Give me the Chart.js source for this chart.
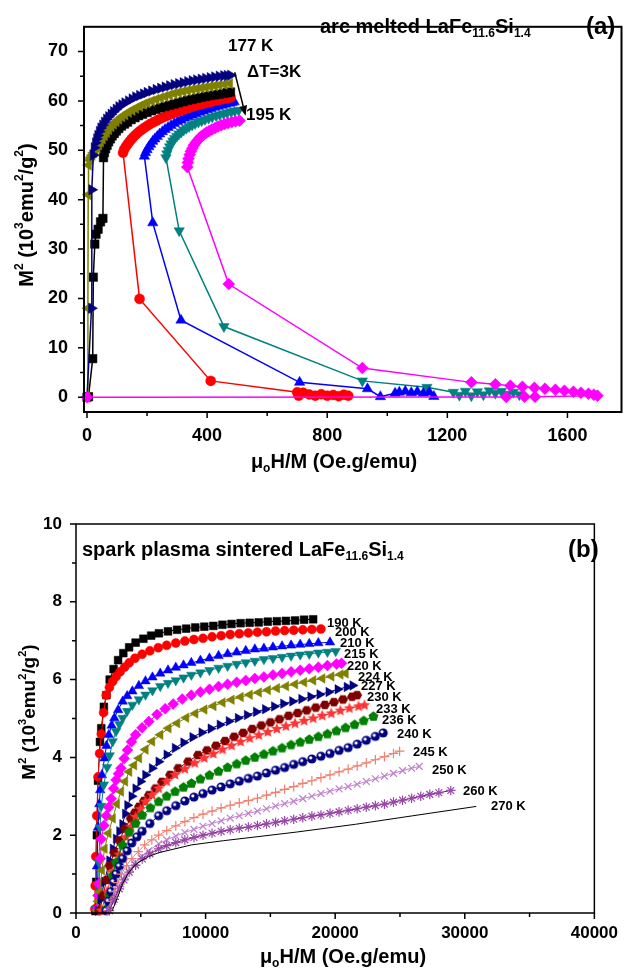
<!DOCTYPE html>
<html><head><meta charset="utf-8">
<script src="https://cdn.jsdelivr.net/npm/chart.js@4.4.1/dist/chart.umd.min.js"></script>
<style>
html,body{margin:0;padding:0;background:#fff;}
#wa{position:absolute;left:0;top:0;width:628px;height:480px;}
#wb{position:absolute;left:0;top:480px;width:628px;height:495px;}
canvas{display:block;}
</style></head><body>
<div id="wa"><canvas id="ca" width="628" height="480"></canvas></div>
<div id="wb"><canvas id="cb" width="628" height="495"></canvas></div>
<script>
// ---------- Panel (a) data: arc melted ----------
const tempsA = ['177 K','180 K','183 K','186 K','189 K','192 K','195 K'];
const xTicksA = [0,400,800,1200,1600];
const xMinorA = [200,600,1000,1400];
const yTicksA = [0,10,20,30,40,50,60,70];
const yMinorA = [5,15,25,35,45,55,65];

const a177 = [[0,0],[15,18],[16,42],[21,49],[24,50.5],[28,51.5],[32,52.3],[36,53],[41,53.8],[46,54.5],[52,55.1],[58,55.7],[65,56.3],[72,56.8],[80,57.3],[88,57.8],[97,58.3],[106,58.8],[116,59.2],[126,59.6],[138,60.0],[150,60.4],[162,60.8],[175,61.1],[188,61.4],[200,61.7],[215,62.0],[230,62.3],[245,62.55],[260,62.8],[275,63.05],[290,63.3],[305,63.5],[320,63.7],[335,63.9],[350,64.1],[365,64.25],[380,64.4],[395,64.55],[410,64.7],[425,64.85],[440,65.0],[455,65.1],[467,65.15],[478,65.2]];
const a180 = [[0,0],[3,18],[4,41],[5,47],[9,48],[12,48.5],[17,49],[22,49.5],[27,50],[33,50.5],[39,51.1],[45,51.7],[51,52.3],[58,53],[65,53.6],[72,54.2],[80,54.8],[88,55.3],[97,55.8],[106,56.3],[116,56.8],[126,57.2],[138,57.7],[150,58.1],[162,58.5],[175,58.9],[188,59.3],[200,59.6],[215,59.95],[230,60.3],[245,60.6],[260,60.9],[275,61.2],[290,61.5],[305,61.7],[320,61.9],[335,62.1],[350,62.3],[365,62.45],[380,62.6],[395,62.75],[410,62.9],[425,63.05],[440,63.2],[457,63.35],[475,63.5]];
const a183 = [[0,0],[5,0.1],[19,7.8],[21,24.3],[26,31],[30,33],[37,34],[45,35.5],[53,36.2],[55,48.5],[58,49.5],[62,50.3],[67,51],[72,51.7],[78,52.3],[84,52.9],[91,53.4],[98,53.9],[106,54.4],[115,54.9],[125,55.3],[135,55.7],[147,56.2],[160,56.6],[172,57.0],[185,57.3],[200,57.65],[215,58],[230,58.3],[245,58.6],[260,58.85],[275,59.1],[290,59.35],[305,59.6],[320,59.85],[335,60.1],[350,60.3],[365,60.5],[380,60.7],[395,60.9],[410,61.05],[425,61.2],[440,61.35],[455,61.5],[467,61.65],[478,61.8]];
const a186 = [[870,0.3],[855,0.5],[838,0.2],[820,0.45],[800,0.3],[780,0.6],[760,0.3],[740,0.55],[720,0.9],[705,0.3],[700,1.0],[412,3.3],[175,19.9],[120,49.5],[124,50.2],[130,50.8],[136,51.3],[142,51.8],[149,52.3],[156,52.8],[164,53.25],[172,53.7],[181,54.1],[190,54.5],[200,54.9],[210,55.3],[221,55.65],[232,56.0],[243,56.35],[255,56.7],[267,57.0],[280,57.3],[292,57.6],[305,57.9],[317,58.15],[330,58.4],[342,58.65],[355,58.9],[367,59.1],[380,59.3],[392,59.5],[405,59.7],[417,59.9],[430,60.1],[442,60.25],[455,60.4],[467,60.55],[478,60.7]];
const a189 = [[1155,0.15],[1140,1.0],[1120,0.8],[1100,1.1],[1080,0.9],[1060,1.2],[1040,1.0],[1026,0.8],[977,0.1],[934,1.7],[708,3.0],[313,15.6],[219,35.3],[191,48.8],[195,49.5],[200,50.1],[206,50.7],[212,51.2],[219,51.8],[226,52.3],[234,52.8],[242,53.3],[251,53.75],[260,54.2],[270,54.6],[280,55.0],[291,55.4],[302,55.8],[313,56.15],[325,56.5],[337,56.8],[350,57.1],[362,57.4],[375,57.7],[387,57.95],[400,58.2],[412,58.45],[425,58.7],[437,58.9],[450,59.1],[462,59.3],[475,59.5],[483,59.65],[490,59.8]];
const a192 = [[1440,0.5],[1420,1.0],[1400,0.6],[1380,1.2],[1360,0.8],[1340,1.3],[1320,0.5],[1300,1.1],[1280,0.3],[1260,1.2],[1240,0.4],[1220,1.0],[1132,2.0],[917,3.3],[456,14.3],[307,33.7],[263,48.5],[266,49.3],[270,50.0],[275,50.7],[280,51.3],[286,51.9],[292,52.4],[299,52.85],[306,53.3],[314,53.7],[322,54.1],[331,54.45],[340,54.8],[350,55.1],[360,55.4],[371,55.7],[382,56.0],[393,56.25],[405,56.5],[417,56.75],[430,57.0],[442,57.2],[455,57.4],[467,57.6],[480,57.8],[492,57.95],[505,58.1]];
const a195 = [[0,0],[1396,0.05],[1457,0.1],[1492,0.1],[1700,0.3],[1688,0.5],[1670,0.7],[1645,0.9],[1620,1.1],[1590,1.3],[1560,1.5],[1525,1.7],[1490,1.9],[1450,2.1],[1410,2.3],[1360,2.6],[1280,3.0],[917,5.9],[472,22.9],[334,46.6],[336,47.5],[338,48.3],[342,49.1],[346,49.8],[351,50.4],[356,51.0],[362,51.5],[368,52.0],[375,52.5],[382,52.9],[390,53.25],[398,53.6],[407,53.9],[416,54.2],[426,54.5],[436,54.8],[447,55.05],[458,55.3],[470,55.5],[482,55.7],[495,55.85],[508,56.0]];

// ---------- Panel (b) data: spark plasma sintered ----------
const tempsB = ['190 K','200 K','210 K','215 K','220 K','224 K','227 K','230 K','233 K','236 K','240 K','245 K','250 K','260 K','270 K'];
const xTicksB = [0,10000,20000,30000,40000];
const xMinorB = [5000,15000,25000,35000];
const yTicksB = [0,2,4,6,8,10];
const yMinorB = [1,3,5,7,9];

const b190 = [[1500,0.05],[1560,0.8],[1610,2.0],[1700,3.4],[1850,4.4],[1950,4.75],[2150,5.3],[2350,5.6],[2600,6.0],[2900,6.27],[3250,6.5],[3650,6.68],[4100,6.83],[4600,6.95],[5200,7.05],[5800,7.13],[6400,7.19],[7100,7.24],[7800,7.28],[8500,7.31],[9200,7.34],[9900,7.36],[10600,7.38],[11300,7.41],[12000,7.43],[12700,7.45],[13400,7.46],[14100,7.47],[14800,7.49],[15500,7.5],[16200,7.51],[16900,7.52],[17600,7.54],[18300,7.55]];
const b200 = [[1450,0.1],[1480,0.7],[1520,1.45],[1600,2.5],[1700,3.5],[1820,4.1],[1950,4.6],[2130,5.15],[2330,5.6],[2580,5.8],[2830,5.95],[3100,6.08],[3400,6.2],[3750,6.32],[4100,6.43],[4550,6.55],[5100,6.65],[5700,6.74],[6350,6.82],[7000,6.88],[7700,6.94],[8400,6.99],[9100,7.03],[9800,7.06],[10500,7.1],[11200,7.13],[11900,7.16],[12600,7.18],[13300,7.2],[14000,7.22],[14700,7.23],[15400,7.25],[16100,7.26],[16800,7.27],[17500,7.28],[18200,7.29],[18900,7.3]];
const b210 = [[1550,0.1],[1620,1.2],[1700,2.2],[1800,2.8],[1870,3.16],[2000,3.55],[2200,3.98],[2350,4.3],[2530,4.58],[2750,4.82],[2960,5.01],[3250,5.22],[3600,5.44],[3950,5.58],[4350,5.7],[4850,5.84],[5360,5.96],[5900,6.06],[6500,6.16],[7100,6.24],[7700,6.31],[8300,6.37],[8900,6.43],[9600,6.49],[10300,6.55],[11000,6.61],[11700,6.66],[12400,6.7],[13100,6.74],[13800,6.78],[14500,6.8],[15200,6.83],[15900,6.86],[16600,6.88],[17300,6.9],[18000,6.92],[18700,6.94],[19600,6.96]];
const b215 = [[1620,0.1],[1700,0.7],[1760,1.3],[1850,2.2],[1950,2.75],[2150,3.3],[2400,3.75],[2600,4.05],[2830,4.41],[3090,4.67],[3350,4.85],[3600,5.01],[3950,5.19],[4350,5.35],[4850,5.49],[5360,5.61],[5900,5.72],[6500,5.83],[7100,5.91],[7700,5.98],[8300,6.05],[8900,6.12],[9600,6.18],[10300,6.24],[11000,6.3],[11700,6.35],[12400,6.4],[13100,6.44],[13800,6.48],[14500,6.52],[15200,6.55],[15900,6.58],[16600,6.61],[17300,6.64],[18000,6.66],[18700,6.69],[19400,6.71],[20040,6.73]];
const b220 = [[1620,0.1],[1700,0.45],[1770,0.75],[1880,1.4],[1950,1.9],[2150,2.25],[2330,2.5],[2520,2.72],[2710,2.94],[2900,3.2],[3090,3.42],[3280,3.58],[3470,3.72],[3720,3.97],[3970,4.19],[4280,4.4],[4600,4.58],[5100,4.76],[5620,4.92],[6250,5.1],[6880,5.25],[7500,5.37],[8200,5.5],[8900,5.6],[9600,5.68],[10300,5.75],[11000,5.82],[11700,5.88],[12400,5.93],[13100,5.98],[13800,6.03],[14500,6.07],[15200,6.12],[15900,6.16],[16600,6.2],[17300,6.24],[18000,6.28],[18700,6.32],[19400,6.36],[20100,6.4],[20490,6.42]];
const b224 = [[1620,0.06],[1720,0.3],[1820,0.55],[2000,1.1],[2200,1.65],[2500,2.05],[2830,2.43],[3150,2.8],[3470,3.12],[3780,3.38],[4100,3.63],[4480,3.8],[4860,3.98],[5360,4.2],[5870,4.41],[6500,4.58],[7130,4.75],[7800,4.88],[8500,5.02],[9200,5.13],[9900,5.23],[10600,5.32],[11300,5.41],[12000,5.48],[12700,5.55],[13400,5.61],[14100,5.67],[14800,5.73],[15500,5.78],[16200,5.83],[16900,5.88],[17600,5.93],[18300,5.98],[19000,6.03],[19700,6.08],[20400,6.13],[20800,6.16]];
const b227 = [[1700,0.06],[1900,0.35],[2200,0.8],[2580,1.35],[2850,1.65],[3090,1.91],[3350,2.1],[3590,2.28],[3800,2.55],[3970,2.77],[4300,3.0],[4600,3.2],[4980,3.38],[5360,3.55],[5870,3.72],[6380,3.89],[7000,4.07],[7640,4.24],[8300,4.38],[9000,4.52],[9700,4.64],[10400,4.74],[11100,4.84],[11800,4.93],[12500,5.01],[13200,5.09],[13900,5.17],[14600,5.24],[15300,5.31],[16000,5.38],[16700,5.44],[17400,5.5],[18100,5.56],[18800,5.62],[19500,5.68],[20200,5.75],[20900,5.81],[21350,5.85]];
const b230 = [[1820,0.06],[2100,0.45],[2350,0.85],[2580,1.22],[2950,1.55],[3340,1.87],[3780,2.17],[4220,2.43],[4540,2.58],[4860,2.73],[5240,2.88],[5620,3.03],[6130,3.2],[6630,3.37],[7260,3.55],[7890,3.72],[8650,3.89],[9410,4.06],[10100,4.18],[10800,4.3],[11500,4.42],[12200,4.53],[12900,4.63],[13600,4.73],[14300,4.82],[15000,4.9],[15700,4.98],[16400,5.07],[17100,5.14],[17800,5.21],[18500,5.28],[19200,5.35],[19900,5.42],[20600,5.49],[21300,5.56],[21690,5.6]];
const b233 = [[1950,0.06],[2400,0.55],[2830,1.05],[3340,1.5],[3850,1.95],[4230,2.22],[4600,2.47],[4980,2.67],[5360,2.86],[5870,3.03],[6380,3.2],[7000,3.38],[7640,3.55],[8400,3.7],[9160,3.85],[9900,3.98],[10600,4.09],[11300,4.2],[12000,4.3],[12700,4.4],[13400,4.49],[14100,4.57],[14800,4.65],[15500,4.73],[16200,4.8],[16900,4.87],[17600,4.94],[18300,5.0],[19000,5.07],[19700,5.13],[20400,5.2],[21100,5.26],[21800,5.31],[22260,5.34]];
const b236 = [[2330,0.1],[2580,0.45],[2830,0.96],[3090,1.3],[3590,1.74],[4100,2.08],[4600,2.3],[5110,2.51],[5740,2.7],[6380,2.86],[7000,3.0],[7650,3.12],[8300,3.23],[8910,3.33],[9600,3.44],[10300,3.54],[11000,3.64],[11700,3.74],[12400,3.83],[13100,3.92],[13800,4.0],[14500,4.08],[15200,4.16],[15900,4.24],[16600,4.32],[17300,4.39],[18000,4.46],[18700,4.53],[19400,4.6],[20100,4.68],[20800,4.76],[21500,4.84],[22200,4.94],[22950,5.05]];
const b240 = [[2330,0.06],[2500,0.3],[2700,0.55],[2900,0.8],[3100,1.0],[3350,1.2],[3600,1.4],[3950,1.6],[4300,1.8],[4700,1.96],[5100,2.1],[5700,2.3],[6380,2.5],[7000,2.63],[7700,2.76],[8400,2.88],[9100,2.98],[9800,3.07],[10500,3.16],[11200,3.24],[11900,3.32],[12600,3.39],[13300,3.46],[14000,3.52],[14700,3.6],[15400,3.67],[16100,3.74],[16800,3.82],[17500,3.89],[18200,3.96],[18900,4.03],[19600,4.1],[20300,4.18],[21000,4.25],[21700,4.34],[22400,4.44],[23100,4.54],[23700,4.63]];
const b245 = [[2460,0.06],[2700,0.3],[2950,0.55],[3200,0.78],[3500,1.0],[3900,1.22],[4300,1.4],[4800,1.58],[5300,1.75],[5850,1.88],[6380,2.0],[7000,2.12],[7700,2.24],[8400,2.35],[9100,2.45],[9800,2.54],[10500,2.62],[11200,2.7],[11900,2.77],[12600,2.83],[13300,2.89],[14000,2.95],[14700,3.03],[15400,3.1],[16100,3.18],[16800,3.25],[17500,3.33],[18200,3.4],[18900,3.48],[19600,3.55],[20300,3.63],[21000,3.7],[21700,3.78],[22400,3.86],[23100,3.94],[23800,4.02],[24500,4.1],[24970,4.16]];
const b250 = [[2580,0.06],[2850,0.3],[3100,0.5],[3450,0.75],[3800,0.95],[4200,1.14],[4600,1.3],[5100,1.46],[5600,1.6],[6380,1.78],[7000,1.88],[7700,1.98],[8400,2.07],[9100,2.15],[9800,2.23],[10500,2.3],[11200,2.37],[11900,2.44],[12600,2.5],[13300,2.56],[14000,2.62],[14700,2.68],[15400,2.75],[16100,2.81],[16800,2.87],[17500,2.94],[18200,3.0],[18900,3.07],[19600,3.13],[20300,3.19],[21000,3.25],[21700,3.31],[22400,3.38],[23100,3.45],[23800,3.52],[24500,3.59],[25200,3.66],[25900,3.72],[26490,3.77]];
const b260 = [[2580,0.06],[2950,0.35],[3340,0.62],[3700,0.85],[4100,1.05],[4600,1.23],[5110,1.39],[5700,1.52],[6380,1.65],[7000,1.73],[7700,1.81],[8400,1.88],[9100,1.94],[9800,2.0],[10500,2.05],[11200,2.1],[11900,2.14],[12600,2.18],[13300,2.21],[14000,2.25],[14700,2.29],[15400,2.33],[16100,2.37],[16800,2.41],[17500,2.45],[18200,2.49],[18900,2.52],[19600,2.56],[20300,2.6],[21000,2.64],[21700,2.68],[22400,2.72],[23100,2.76],[23800,2.8],[24500,2.85],[25200,2.9],[25900,2.95],[26600,3.0],[27300,3.05],[28000,3.09],[28920,3.15]];
const b270 = [[2800,0.06],[3200,0.4],[3600,0.75],[4000,1.0],[4400,1.18],[4860,1.31],[5600,1.45],[6380,1.55],[8900,1.75],[11400,1.86],[13970,1.96],[17000,2.08],[21560,2.28],[26000,2.5],[30890,2.74]];

// ---------- helpers ----------
const FONT = '"Liberation Sans", Arial, sans-serif';
function fontFor(p, size){ return 'bold ' + (p[1] ? Math.round(size*0.6) : size) + 'px ' + FONT; }
function drawRich(ctx, parts, x, y, size, align){
  let w = 0;
  for (const p of parts){ ctx.font = fontFor(p,size); w += ctx.measureText(p[0]).width; }
  let cx = align === 'center' ? x - w/2 : (align === 'right' ? x - w : x);
  ctx.textBaseline = 'middle'; ctx.textAlign = 'left'; ctx.fillStyle = '#000';
  for (const p of parts){
    ctx.font = fontFor(p,size);
    const dy = p[1] === 'sub' ? size*0.33 : (p[1] === 'sup' ? -size*0.38 : 0);
    ctx.fillText(p[0], cx, y + dy);
    cx += ctx.measureText(p[0]).width;
  }
}
function mkShape(kind, r, color){
  const s = Math.ceil(r*2 + 2), c = document.createElement('canvas');
  c.width = c.height = s;
  const g = c.getContext('2d'), m = s/2;
  g.fillStyle = color;
  if (kind === 'sphere'){
    g.beginPath(); g.arc(m, m, r, 0, Math.PI*2); g.fill();
    g.fillStyle = '#fff'; g.beginPath(); g.arc(m - r*0.25, m - r*0.25, r*0.35, 0, Math.PI*2); g.fill();
    return c;
  }
  let n = 6, rot = 0, star = false;
  if (kind === 'pent'){ n = 5; rot = -Math.PI/2; }
  if (kind === 'star'){ n = 10; rot = -Math.PI/2; star = true; }
  g.beginPath();
  for (let i = 0; i < n; i++){
    const a = rot + i*Math.PI*2/n, rr = (star && i%2) ? r*0.45 : r;
    g.lineTo(m + rr*Math.cos(a), m + rr*Math.sin(a));
  }
  g.closePath(); g.fill();
  return c;
}
const toXY = arr => arr.map(p => ({x:p[0], y:p[1]}));
function ds(label, data, color, style, radius, rot, lineW, ptColor){
  const pc = ptColor || color;
  const lineStyle = (style === 'cross' || style === 'crossRot' || style === 'star');
  return {
    label, data: toXY(data), showLine: true,
    borderColor: color, backgroundColor: pc, borderWidth: lineW,
    pointStyle: style, pointRadius: radius, pointRotation: rot || 0,
    pointBackgroundColor: pc, pointBorderColor: pc,
    pointBorderWidth: lineStyle ? 1.2 : 0.5, pointHoverRadius: radius,
    tension: 0, clip: false
  };
}

const deco = {
  id: 'deco',
  afterDraw(chart, args, o){
    const ctx = chart.ctx, ca = chart.chartArea, xs = chart.scales.x, ys = chart.scales.y;
    ctx.save();
    ctx.strokeStyle = '#000';
    ctx.lineWidth = o.frame;
    ctx.strokeRect(ca.left, ca.top, ca.right - ca.left, ca.bottom - ca.top);
    ctx.lineWidth = o.tickW;
    ctx.beginPath();
    for (const v of o.xMaj){ const p = xs.getPixelForValue(v); ctx.moveTo(p, ca.bottom); ctx.lineTo(p, ca.bottom + o.maj); }
    for (const v of o.xMin){ const p = xs.getPixelForValue(v); ctx.moveTo(p, ca.bottom); ctx.lineTo(p, ca.bottom + o.min); }
    for (const v of o.yMaj){ const p = ys.getPixelForValue(v); ctx.moveTo(ca.left, p); ctx.lineTo(ca.left - o.maj, p); }
    for (const v of o.yMin){ const p = ys.getPixelForValue(v); ctx.moveTo(ca.left, p); ctx.lineTo(ca.left - o.min, p); }
    ctx.stroke();
    for (const t of o.texts){
      if (t.rot){
        ctx.save(); ctx.translate(t.x, t.y); ctx.rotate(-Math.PI/2);
        drawRich(ctx, t.parts, 0, 0, t.size, 'center'); ctx.restore();
      } else drawRich(ctx, t.parts, t.x, t.y, t.size, t.align || 'left');
    }
    if (o.arrow){
      const a = o.arrow;
      const x1 = xs.getPixelForValue(a[0]), y1 = ys.getPixelForValue(a[1]);
      const x2 = xs.getPixelForValue(a[2]), y2 = ys.getPixelForValue(a[3]);
      const ang = Math.atan2(y2 - y1, x2 - x1), L = 10, W = 4;
      ctx.lineWidth = 1.5;
      ctx.beginPath(); ctx.moveTo(x1, y1); ctx.lineTo(x2 - L*Math.cos(ang), y2 - L*Math.sin(ang)); ctx.stroke();
      ctx.fillStyle = '#000'; ctx.beginPath();
      ctx.moveTo(x2, y2);
      ctx.lineTo(x2 - L*Math.cos(ang) + W*Math.sin(ang), y2 - L*Math.sin(ang) - W*Math.cos(ang));
      ctx.lineTo(x2 - L*Math.cos(ang) - W*Math.sin(ang), y2 - L*Math.sin(ang) + W*Math.cos(ang));
      ctx.closePath(); ctx.fill();
    }
    ctx.restore();
  }
};

function axis(min, max, ticks, size, pad, fitProp, fitVal){
  return {
    type: 'linear', min, max,
    afterBuildTicks: s => { s.ticks = ticks.map(v => ({value: v})); },
    afterFit: s => { s[fitProp] = fitVal; },
    grid: {display: false, drawTicks: false},
    border: {display: false},
    ticks: {padding: pad, color: '#000', autoSkip: false, maxRotation: 0,
            font: {family: FONT, size: size, weight: 'bold'}, callback: v => String(v)}
  };
}

const titleParts = (pre) => [[pre + 'LaFe',''],['11.6','sub'],['Si',''],['1.4','sub']];
const xTitle = [['\u03BC',''],['o','sub'],['H/M (Oe.g/emu)','']];
const yTitle = [['M',''],['2','sup'],[' (10',''],['3','sup'],['emu',''],['2','sup'],['/g',''],['2','sup'],[')','']];

// ---------- Chart (a) ----------
new Chart(document.getElementById('ca'), {
  type: 'scatter',
  data: { datasets: [
    ds(tempsA[6], a195, '#FF00FF', 'rectRot', 6, 0, 1.5),
    ds(tempsA[0], a177, '#000080', 'triangle', 6, 90, 1.5),
    ds(tempsA[1], a180, '#808000', 'triangle', 6, -90, 1.5),
    ds(tempsA[2], a183, '#000000', 'rect', 6, 0, 1.5),
    ds(tempsA[3], a186, '#FF0000', 'circle', 5, 0, 1.5),
    ds(tempsA[4], a189, '#0000FF', 'triangle', 6, 0, 1.5),
    ds(tempsA[5], a192, '#008080', 'triangle', 6, 180, 1.5)
  ]},
  options: {
    responsive: false, animation: false, events: [],
    layout: {padding: {top: 11, right: 2, left: 0, bottom: 0}},
    scales: {
      x: axis(-10, 1780, xTicksA, 18, 13, 'height', 68),
      y: axis(-3, 75, yTicksA, 18, 16, 'width', 84)
    },
    plugins: {
      legend: {display: false}, tooltip: {enabled: false},
      deco: {
        frame: 2, tickW: 1.5, maj: 6, min: 4,
        xMaj: xTicksA, xMin: xMinorA, yMaj: yTicksA, yMin: yMinorA,
        arrow: [492, 65.8, 528, 57.0],
        texts: [
          {parts: titleParts('arc melted '), x: 320, y: 27, size: 20},
          {parts: [['(a)','']], x: 586, y: 27, size: 24},
          {parts: [[tempsA[0],'']], x: 228, y: 46, size: 17},
          {parts: [['\u0394T=3K','']], x: 247, y: 72, size: 17},
          {parts: [[tempsA[6],'']], x: 246, y: 115, size: 17},
          {parts: xTitle, x: 334, y: 462, size: 20, align: 'center'},
          {parts: yTitle, x: 27, y: 215, size: 20, rot: true}
        ]
      }
    }
  },
  plugins: [deco]
});

// ---------- Chart (b) ----------
const hexImg = mkShape('hex', 5, '#800000');
const starImg = mkShape('star', 6, '#FF3333');
const pentImg = mkShape('pent', 5.2, '#008000');
const sphImg = mkShape('sphere', 4.6, '#000080');
const labelPosB = [[327,143],[335,152],[340,163],[344,174],[347,186],[358,197],[361,206],[367,217],[376,229],[382,240],[397,254],[413,272],[432,290],[463,311],[491,326]];

const dsB = [
  ds(tempsB[14], b270, '#000000', 'circle', 0, 0, 1),
  ds(tempsB[13], b260, '#800080', 'star', 4.8, 0, 1, '#9848A8'),
  ds(tempsB[12], b250, '#C080D0', 'crossRot', 4.8, 0, 1),
  ds(tempsB[11], b245, '#F08070', 'cross', 4.8, 0, 1),
  ds(tempsB[10], b240, '#000080', sphImg, 4.5, 0, 1),
  ds(tempsB[9], b236, '#008000', pentImg, 5, 0, 1),
  ds(tempsB[8], b233, '#FF3333', starImg, 6, 0, 1),
  ds(tempsB[7], b230, '#800000', hexImg, 5, 0, 1),
  ds(tempsB[6], b227, '#000080', 'triangle', 5.5, 90, 1),
  ds(tempsB[5], b224, '#808000', 'triangle', 5.5, -90, 1),
  ds(tempsB[4], b220, '#FF00FF', 'rectRot', 5.5, 0, 1),
  ds(tempsB[3], b215, '#008080', 'triangle', 5.5, 180, 1),
  ds(tempsB[2], b210, '#0000FF', 'triangle', 5.5, 0, 1),
  ds(tempsB[1], b200, '#FF0000', 'circle', 4.5, 0, 1),
  ds(tempsB[0], b190, '#000000', 'rect', 5.5, 0, 1)
];
const textsB = [
  {parts: titleParts('spark plasma sintered '), x: 82, y: 70, size: 20},
  {parts: [['(b)','']], x: 568, y: 70, size: 24},
  {parts: xTitle, x: 343, y: 477, size: 20, align: 'center'},
  {parts: yTitle, x: 30, y: 232, size: 19, rot: true}
];
tempsB.forEach((t, i) => textsB.push({parts: [[t,'']], x: labelPosB[i][0], y: labelPosB[i][1], size: 13}));

new Chart(document.getElementById('cb'), {
  type: 'scatter',
  data: { datasets: dsB },
  options: {
    responsive: false, animation: false, events: [],
    layout: {padding: {top: 44, right: 25, left: 0, bottom: 0}},
    scales: {
      x: axis(0, 40000, xTicksB, 17, 10, 'height', 62),
      y: axis(0, 10, yTicksB, 17, 14, 'width', 76)
    },
    plugins: {
      legend: {display: false}, tooltip: {enabled: false},
      deco: {
        frame: 1.5, tickW: 1.5, maj: 6, min: 4,
        xMaj: xTicksB, xMin: xMinorB, yMaj: yTicksB, yMin: yMinorB,
        texts: textsB
      }
    }
  },
  plugins: [deco]
});
</script>
</body></html>
